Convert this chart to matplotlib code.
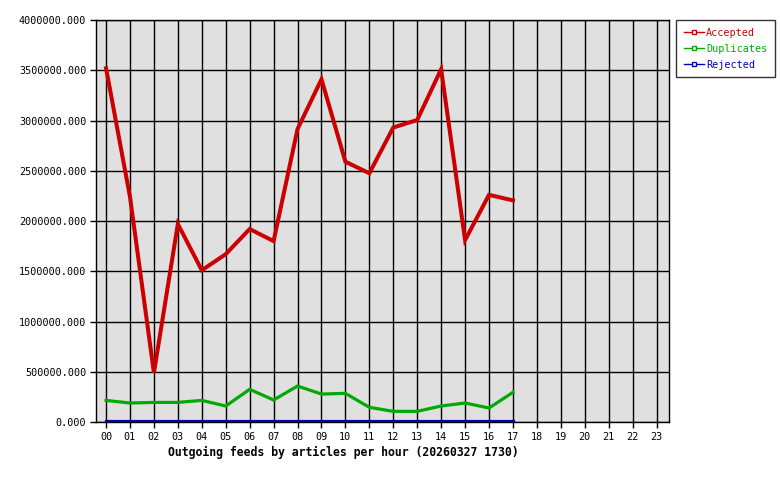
import matplotlib.pyplot as plt
from matplotlib.lines import Line2D

hours = ["%02d" % h for h in range(24)]
accepted = [3520000, 2240000, 490000, 1970000, 1510000, 1670000, 1920000, 1800000,
            2915000, 3410000, 2590000, 2475000, 2930000, 3005000, 3510000, 1810000,
            2260000, 2205000]
duplicates = [215000, 189000, 195000, 195000, 215000, 159000, 325000, 219000,
              358000, 278000, 285000, 146000, 106000, 106000, 159000, 189000,
              139000, 295000]
rejected = [10000] * 18

series = [("Accepted", accepted, "#cc0000", 2.9),
          ("Duplicates", duplicates, "#00aa00", 2.3),
          ("Rejected", rejected, "#0000bb", 2.3)]

plt.rcParams["font.family"] = ["DejaVu Sans Mono"]
plt.rcParams["font.size"] = 7.3

fig = plt.figure(figsize=(7.8, 4.8), dpi=100)
ax = fig.add_axes([96 / 780, 1 - 422 / 480, 573 / 780, 402 / 480])
ax.set_facecolor("#e0e0e0")

x = list(range(len(accepted)))
handles = []
for name, vals, color, lw in series:
    ax.plot(x, vals, color=color, linewidth=lw, solid_joinstyle="miter")
    handles.append(Line2D([0], [0], color=color, linewidth=1, marker="s",
                          markersize=2.5, markerfacecolor="white",
                          markeredgecolor=color))

ax.set_xlim(-0.42, 23.52)
ax.set_ylim(0, 4000000)
ax.set_xticks(range(24))
ax.set_xticklabels(hours)
ax.set_yticks(range(0, 4000001, 500000))
ax.set_yticklabels(["%.3f" % v for v in range(0, 4000001, 500000)])
ax.grid(True, color="black", linewidth=1)
ax.set_axisbelow(True)
ax.tick_params(direction="out", length=4, width=1, color="black", pad=3)
for s in ax.spines.values():
    s.set_linewidth(1)

# title sits under the axis, a bit left of centre
fig.text(343 / 780, 1 - 452 / 480,
         "Outgoing feeds by articles per hour (20260327 1730)",
         fontweight="bold", fontsize=8.3, ha="center", va="center")

leg = fig.legend(handles, [s[0] for s in series], loc="upper left",
                 bbox_to_anchor=(679 / 780, 1 - 20 / 480), frameon=True,
                 fancybox=False, edgecolor="black", handlelength=2.0,
                 handletextpad=0.2, borderpad=0.75, labelspacing=0.6,
                 borderaxespad=0)
leg.get_frame().set_linewidth(1)
leg._legend_box.sep = 0
for t, s in zip(leg.get_texts(), series):
    t.set_color(s[2])
fig.canvas.draw()
bb = leg.get_window_extent()
if bb.x1 > 775:
    leg.set_bbox_to_anchor((679 / 780 - (bb.x1 - 775) / 780, 1 - 20 / 480))

fig.savefig("out.png", dpi=100)
